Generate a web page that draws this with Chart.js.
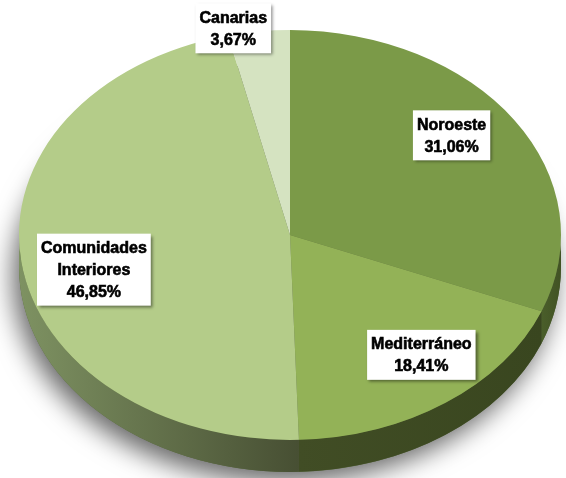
<!DOCTYPE html>
<html>
<head>
<meta charset="utf-8">
<script src="https://cdn.jsdelivr.net/npm/chart.js@4.4.1/dist/chart.umd.min.js"></script>
<style>
  html, body { margin: 0; padding: 0; background: #fff; }
  #wrap { width: 566px; height: 478px; position: relative; }
</style>
</head>
<body>
<div id="wrap"><canvas id="chart"></canvas></div>
<script>
var regions = ['Noroeste', 'Mediterráneo', 'Comunidades Interiores', 'Canarias'];
var shares = [31.06, 18.41, 46.85, 3.67];
var topColors = ['#7b9a48', '#93b257', '#b4cc89', '#d5e3c1'];
var sideColors = [['#4a5e2a', '#415224'], ['#414d25', '#39461f'], ['#7e9262', '#474f33'], ['#8a9a70', '#8a9a70']];
// where each label box sits: radial factor along the slice mid angle, then a pixel nudge
var labelPlace = [[0.72, 0, -17], [0.78, 10, -11], [0.73, 0, 15], [1.05, -24, 7]];

var TILT = 0.756;   // squash of the pie top (ry / rx)
var DEPTH = 32;     // thickness of the pie wall

function fmt(v) {
  return v.toFixed(2).replace('.', ',') + '%';
}

// draws the wall + shadow, then squashes the circle into an ellipse
var pie3d = {
  id: 'pie3d',
  beforeDatasetsDraw: function(chart) {
    var ctx = chart.ctx;
    var arcs = chart.getDatasetMeta(0).data;
    var cx = arcs[0].x, cy = arcs[0].y, r = arcs[0].outerRadius, ry = r * TILT;

    ctx.save();
    ctx.shadowColor = 'rgba(0,0,0,0.6)';
    ctx.shadowBlur = 26;
    ctx.shadowOffsetX = -6;
    ctx.shadowOffsetY = 10;
    ctx.beginPath();
    ctx.ellipse(cx, cy + DEPTH, r, ry, 0, 0, Math.PI * 2);
    ctx.fillStyle = '#55663a';
    ctx.fill();
    ctx.restore();

    arcs.forEach(function(arc, i) {
      var a0 = Math.max(arc.startAngle, 0), a1 = Math.min(arc.endAngle, Math.PI);
      if (a1 <= a0) return;
      var xl = cx + r * Math.cos(a1), xr = cx + r * Math.cos(a0);
      var g = ctx.createLinearGradient(xl, 0, xr, 0);
      g.addColorStop(0, sideColors[i][0]);
      g.addColorStop(1, sideColors[i][1]);
      ctx.beginPath();
      ctx.ellipse(cx, cy, r, ry, 0, a0, a1);
      ctx.ellipse(cx, cy + DEPTH, r, ry, 0, a1, a0, true);
      ctx.closePath();
      ctx.fillStyle = g;
      ctx.fill();
    });

    ctx.save();
    ctx.translate(cx, cy);
    ctx.scale(1, TILT);
    ctx.translate(-cx, -cy);
  },
  afterDatasetsDraw: function(chart) {
    chart.ctx.restore();
  },
  afterDraw: function(chart) {
    var ctx = chart.ctx;
    var values = chart.data.datasets[0].data;
    ctx.save();
    ctx.font = 'bold 16px "Liberation Sans", Arial, sans-serif';
    ctx.textAlign = 'center';
    ctx.textBaseline = 'middle';
    chart.getDatasetMeta(0).data.forEach(function(arc, i) {
      var mid = (arc.startAngle + arc.endAngle) / 2;
      var p = labelPlace[i];
      var x = arc.x + Math.cos(mid) * arc.outerRadius * p[0] + p[1];
      var y = arc.y + Math.sin(mid) * arc.outerRadius * TILT * p[0] + p[2];
      var lines = chart.data.labels[i].split(' ').concat([fmt(values[i])]);
      var w = 0;
      lines.forEach(function(l) { w = Math.max(w, ctx.measureText(l).width); });
      var lh = 22;
      var bw = w + 8, bh = lines.length * lh + 6;
      ctx.save();
      ctx.shadowColor = 'rgba(0,0,0,0.45)';
      ctx.shadowBlur = 3;
      ctx.shadowOffsetX = 2;
      ctx.shadowOffsetY = 2;
      ctx.fillStyle = '#ffffff';
      ctx.fillRect(x - bw / 2, y - bh / 2, bw, bh);
      ctx.restore();
      ctx.fillStyle = '#000000';
      ctx.strokeStyle = '#000000';
      ctx.lineWidth = 0.6;
      lines.forEach(function(l, j) {
        var ty = y - bh / 2 + 3 + lh * j + lh / 2 + 1;
        ctx.fillText(l, x, ty);
        ctx.strokeText(l, x, ty);
      });
    });
    ctx.restore();
  }
};

new Chart(document.getElementById('chart'), {
  type: 'pie',
  data: {
    labels: regions,
    datasets: [{
      data: shares,
      backgroundColor: topColors,
      borderWidth: 0,
      radius: 271,
      clip: false
    }]
  },
  options: {
    responsive: true,
    maintainAspectRatio: false,
    animation: false,
    events: [],
    layout: { padding: { left: 14, right: 0, top: 0, bottom: 8 } },
    plugins: {
      legend: { display: false },
      tooltip: { enabled: false }
    }
  },
  plugins: [pie3d]
});
</script>
</body>
</html>
